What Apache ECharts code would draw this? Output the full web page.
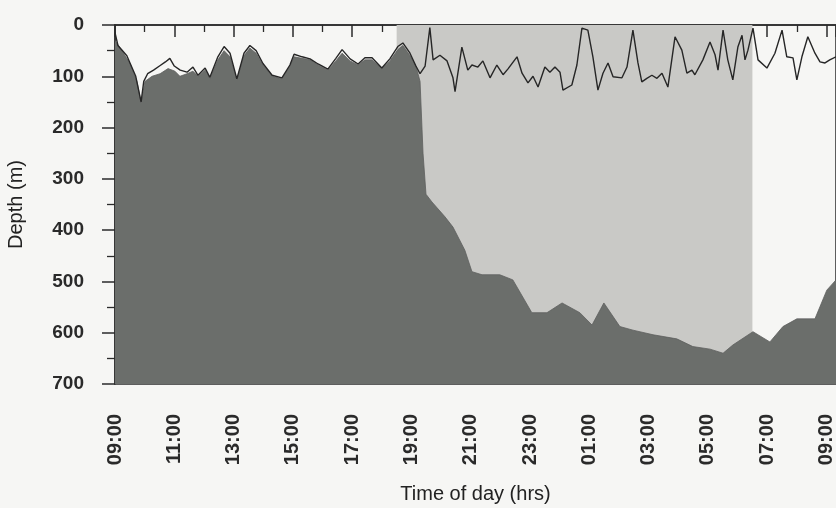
<!DOCTYPE html>
<html>
<head>
<meta charset="utf-8">
<script src="https://cdn.jsdelivr.net/npm/echarts@6/dist/echarts.min.js"></script>
<style>
  html, body { margin: 0; padding: 0; background: #f6f6f4; }
  #main { width: 836px; height: 508px; }
</style>
</head>
<body>
<div id="main"></div>
<script>
// hours after 09:00, depth in metres
const seabed = [
  [0, 30], [0.17, 45], [0.51, 75], [0.74, 110], [0.88, 152], [1.01, 110], [1.25, 100],
  [1.52, 95], [1.79, 85], [2.02, 90], [2.19, 100], [2.43, 95], [2.63, 90], [2.8, 100],
  [3.04, 88], [3.2, 105], [3.47, 68], [3.68, 50], [3.88, 62], [4.11, 107], [4.35, 60],
  [4.55, 45], [4.76, 55], [4.99, 78], [5.3, 100], [5.63, 105], [5.9, 80], [6.04, 62],
  [6.31, 65], [6.58, 68], [6.85, 78], [7.18, 88], [7.45, 70], [7.66, 55], [7.93, 70],
  [8.2, 78], [8.43, 68], [8.67, 68], [9.0, 85], [9.27, 70], [9.54, 48], [9.71, 40],
  [9.95, 60], [10.15, 80], [10.29, 110], [10.39, 250], [10.49, 330], [10.69, 345],
  [11.13, 374], [11.4, 394], [11.8, 439], [12.04, 481], [12.38, 487], [12.98, 487],
  [13.42, 497], [14.06, 561], [14.57, 561], [15.08, 542], [15.68, 561], [16.09, 585],
  [16.49, 542], [17.03, 588], [17.47, 595], [18.15, 604], [18.95, 612], [19.49, 627],
  [20.07, 632], [20.51, 640], [20.84, 624], [21.52, 598], [22.09, 618], [22.53, 588],
  [23.0, 573], [23.61, 573], [24.01, 517], [24.32, 497]
];

const fish = [
  [0, 15], [0.1, 40], [0.4, 60], [0.7, 100], [0.88, 150], [0.97, 110], [1.1, 95],
  [1.3, 88], [1.5, 80], [1.7, 72], [1.85, 65], [2.0, 80], [2.2, 88], [2.43, 92],
  [2.63, 82], [2.8, 98], [3.04, 84], [3.2, 102], [3.47, 62], [3.68, 42], [3.88, 55],
  [4.11, 105], [4.35, 55], [4.55, 40], [4.76, 50], [4.99, 75], [5.3, 98], [5.63, 103],
  [5.9, 78], [6.04, 57], [6.31, 62], [6.58, 66], [6.85, 76], [7.18, 86], [7.45, 65],
  [7.66, 48], [7.93, 66], [8.2, 76], [8.43, 64], [8.67, 64], [9.0, 84], [9.27, 66],
  [9.54, 42], [9.71, 35], [9.95, 55], [10.15, 80], [10.29, 95], [10.46, 80],
  [10.62, 5], [10.73, 68], [10.96, 59], [11.2, 70], [11.4, 103], [11.47, 130],
  [11.7, 43], [11.9, 88], [12.04, 78], [12.24, 82], [12.41, 70], [12.65, 103],
  [12.88, 78], [13.09, 97], [13.25, 86], [13.56, 62], [13.73, 94], [13.93, 113],
  [14.1, 100], [14.27, 121], [14.5, 82], [14.67, 92], [14.84, 82], [15.01, 92],
  [15.11, 127], [15.41, 117], [15.58, 78], [15.75, 6], [15.95, 10], [16.12, 62],
  [16.29, 127], [16.46, 94], [16.63, 74], [16.8, 101], [17.1, 103], [17.27, 82],
  [17.47, 10], [17.64, 74], [17.77, 111], [17.94, 104], [18.11, 98], [18.28, 104],
  [18.45, 94], [18.65, 121], [18.89, 23], [19.12, 49], [19.29, 94], [19.46, 88],
  [19.56, 97], [19.83, 68], [20.07, 33], [20.24, 58], [20.34, 88], [20.51, 10],
  [20.67, 68], [20.84, 107], [21.01, 43], [21.15, 20], [21.25, 68], [21.35, 49],
  [21.52, 6], [21.69, 68], [21.99, 84], [22.26, 55], [22.5, 10], [22.66, 62],
  [22.87, 64], [23.0, 107], [23.17, 62], [23.37, 23], [23.61, 55], [23.78, 72],
  [23.95, 74], [24.11, 68], [24.32, 62]
];

// night period 18:30 - 06:30
const night = [9.5, 21.5];

const chart = echarts.init(document.getElementById("main"));
const font = "Liberation Sans";

chart.setOption({
  backgroundColor: "#f6f6f4",
  animation: false,
  grid: {
    left: 115,
    right: 0,
    top: 25,
    bottom: 124,
    outerBoundsMode: "none",
    containLabel: false,
    show: true,
    borderColor: "#2b2b2b",
    borderWidth: 1.5,
  },
  xAxis: {
    type: "value",
    min: 0,
    max: 24.32,
    interval: 2,
    name: "Time of day (hrs)",
    nameLocation: "middle",
    nameGap: 100,
    nameTextStyle: { fontFamily: font, fontSize: 20, color: "#222" },
    axisLine: { lineStyle: { color: "#2b2b2b", width: 1.5 } },
    axisTick: { length: 12, lineStyle: { color: "#2b2b2b", width: 1.5 } },
    minorTick: { show: true, splitNumber: 2, length: 7, lineStyle: { color: "#2b2b2b", width: 1.3 } },
    splitLine: { show: false },
    axisLabel: {
      rotate: 90,
      margin: 30,
      fontFamily: font,
      fontSize: 20,
      fontWeight: "bold",
      color: "#2a2a2a",
      showMaxLabel: false,
      formatter: (v) => {
        if (v > 24.01) return "";
        const hh = (9 + Math.round(v)) % 24;
        return (hh < 10 ? "0" : "") + hh + ":00";
      },
    },
  },
  yAxis: {
    type: "value",
    inverse: true,
    min: 0,
    max: 700,
    interval: 100,
    name: "Depth (m)",
    nameLocation: "middle",
    nameGap: 89,
    nameTextStyle: { fontFamily: font, fontSize: 20, color: "#222" },
    axisLine: { show: true, lineStyle: { color: "#2b2b2b", width: 1.5 } },
    axisTick: { show: true, length: 13, lineStyle: { color: "#2b2b2b", width: 1.5 } },
    minorTick: { show: true, splitNumber: 2, length: 8, lineStyle: { color: "#2b2b2b", width: 1.3 } },
    splitLine: { show: false },
    axisLabel: {
      margin: 31,
      fontFamily: font,
      fontSize: 19,
      fontWeight: "bold",
      color: "#2a2a2a",
    },
  },
  series: [
    {
      // night shading
      type: "line",
      data: [],
      z: 1,
      markArea: {
        silent: true,
        itemStyle: { color: "#c9c9c6" },
        data: [[{ xAxis: night[0] }, { xAxis: night[1] }]],
      },
    },
    {
      name: "Seabed",
      type: "line",
      data: seabed,
      z: 2,
      symbol: "none",
      lineStyle: { color: "#5e605e", width: 0.8 },
      areaStyle: { color: "#6b6e6b", origin: "end", opacity: 1 },
    },
    {
      name: "Fish",
      type: "line",
      data: fish,
      z: 3,
      symbol: "none",
      lineStyle: { color: "#262626", width: 1.4 },
    },
  ],
});
</script>
</body>
</html>
